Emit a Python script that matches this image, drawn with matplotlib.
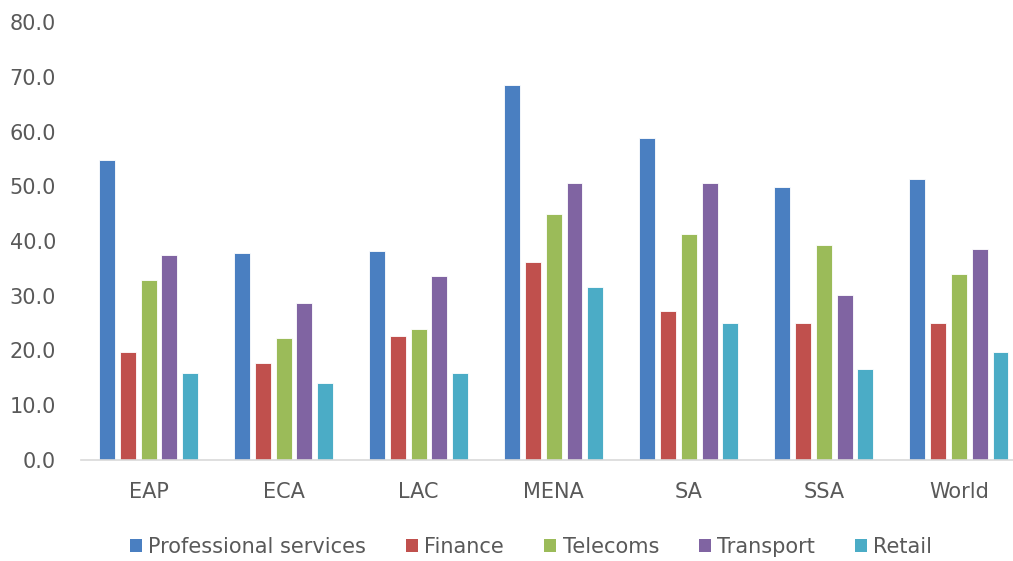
import matplotlib
matplotlib.use("Agg")
import matplotlib.pyplot as plt
import numpy as np
from matplotlib.patches import Patch

categories = ["EAP", "ECA", "LAC", "MENA", "SA", "SSA", "World"]
series_names = ["Professional services", "Finance", "Telecoms", "Transport", "Retail"]
professional = [54.9, 37.8, 38.1, 68.5, 58.9, 49.9, 51.4]
finance = [19.6, 17.7, 22.6, 36.2, 27.2, 24.9, 24.9]
telecoms = [32.9, 22.3, 23.8, 45.0, 41.2, 39.3, 34.0]
transport = [37.4, 28.7, 33.6, 50.6, 50.6, 30.2, 38.5]
retail = [15.8, 14.0, 15.8, 31.6, 24.9, 16.5, 19.6]
yticks = [0, 10, 20, 30, 40, 50, 60, 70, 80]

values = [professional, finance, telecoms, transport, retail]
colors = ["#4A7FC1", "#C0504D", "#9BBB59", "#8064A2", "#4BACC6"]

plt.rcParams['font.family'] = ['DejaVu Sans']

fig = plt.figure(figsize=(10.13, 5.61), dpi=100)
ax = fig.add_axes([81/1013, 1-459.5/561, 932/1013, 437/561])

x = np.arange(len(categories))
pitch = 0.1537
width = 0.118
for i, (vals, c) in enumerate(zip(values, colors)):
    ax.bar(x + (i - 2) * pitch, vals, width, color=c, edgecolor="white",
           linewidth=0.6, label=series_names[i], zorder=2)

ax.set_xlim(-0.5, 6.4)
ax.set_ylim(0, 80)
ax.set_yticks(yticks)
ax.set_yticklabels([f"{v:.1f}" for v in yticks])
ax.set_xticks(x)
ax.set_xticklabels(categories)
for s in ["top", "right", "left"]:
    ax.spines[s].set_visible(False)
ax.spines["bottom"].set_color("#d9d9d9")
ax.spines["bottom"].set_linewidth(1.2)
ax.tick_params(axis="y", length=0, pad=18, labelsize=15, labelcolor="#595959")
ax.tick_params(axis="x", length=0, pad=16, labelsize=15, labelcolor="#595959")

handles = [Patch(facecolor=c, edgecolor="none") for c in colors]
fig.legend(handles, series_names, loc="center", bbox_to_anchor=(531/1013, 1-547/561),
           ncol=5, frameon=False, fontsize=15, handlelength=0.6, handleheight=0.6,
           handletextpad=0.3, columnspacing=1.9, labelcolor="#595959",
           borderpad=0.2)

fig.savefig("out.png", dpi=100, facecolor="white")
